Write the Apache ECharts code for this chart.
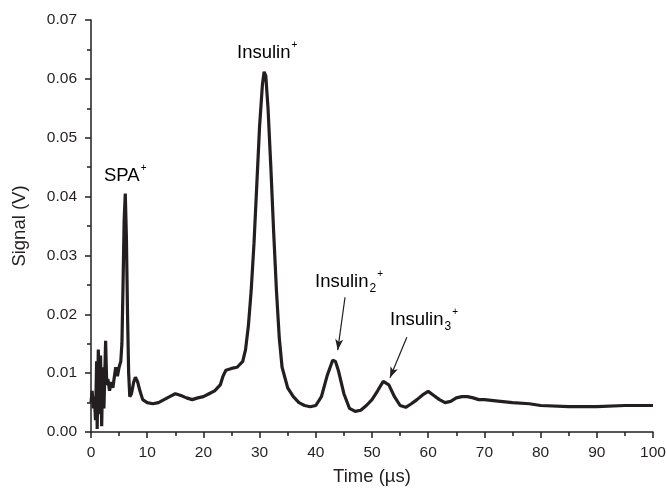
<!DOCTYPE html>
<html>
<head>
<meta charset="utf-8">
<script src="https://cdn.jsdelivr.net/npm/echarts@6/dist/echarts.min.js"></script>
<style>
  html, body { margin: 0; padding: 0; background: #fff; }
  #chart-wrapper { width: 667px; height: 488px; }
</style>
</head>
<body>
<div id="chart-wrapper"></div>
<script>
// time of flight (us) and signal (V)
const timeUs = [
  0, 0.2, 0.4, 0.6, 0.8, 1.0, 1.1, 1.3, 1.5, 1.7, 1.9, 2.1, 2.3, 2.6, 2.8, 3.0,
  3.3, 3.6, 3.9, 4.1, 4.4, 4.7, 5.0, 5.3, 5.5, 5.7, 5.9, 6.1, 6.3, 6.5, 6.7, 6.9,
  7.2, 7.6, 7.9, 8.3, 8.7, 9.2, 10, 11, 12, 13, 14, 15, 16, 17, 18, 19, 20, 21,
  22, 23, 23.5, 24, 25, 26, 27, 27.5, 28, 28.5, 29, 29.5, 30, 30.5, 30.8, 31.1,
  31.5, 32, 32.5, 33, 33.5, 34, 35, 36, 37, 38, 39, 40, 41, 42, 43, 43.5, 44, 45,
  46, 47, 48, 49, 50, 51, 52, 53, 54, 55, 56, 57, 58, 59, 60, 61, 62, 63, 64, 65,
  66, 67, 68, 69, 70, 72, 75, 78, 80, 85, 90, 95, 100
];
const signalV = [
  0.005, 0.007, 0.004, 0.006, 0.002, 0.012, 0.0005, 0.014, 0.003, 0.013, 0.001, 0.011, 0.004, 0.0155, 0.008, 0.009,
  0.007, 0.0085, 0.0075, 0.009, 0.011, 0.0095, 0.011, 0.012, 0.015, 0.025, 0.036, 0.0405, 0.033, 0.02, 0.01, 0.006,
  0.0065, 0.0085, 0.0093, 0.0085, 0.007, 0.0055, 0.005, 0.0048, 0.005, 0.0055, 0.006, 0.0065, 0.0062, 0.0058, 0.0055, 0.0058, 0.006, 0.0065,
  0.007, 0.008, 0.0095, 0.0105, 0.0108, 0.011, 0.012, 0.014, 0.018, 0.024, 0.032, 0.042, 0.052, 0.059, 0.0612, 0.0605,
  0.055, 0.045, 0.034, 0.024, 0.016, 0.011, 0.0075, 0.006, 0.005, 0.0045, 0.0043, 0.0045, 0.006, 0.0095, 0.0122, 0.012, 0.0105, 0.0065,
  0.004, 0.0035, 0.0037, 0.0045, 0.0055, 0.007, 0.0086, 0.008, 0.006, 0.0045, 0.0042, 0.0048, 0.0055, 0.0063, 0.0069, 0.0062, 0.0055, 0.005, 0.0052, 0.0058,
  0.006, 0.006, 0.0058, 0.0055, 0.0055, 0.0053, 0.005, 0.0048, 0.0045, 0.0043, 0.0043, 0.0045, 0.0045
];
// arrows for the dimer / trimer labels: [from, to] in data units
const arrowInsulin2 = [[45.2, 0.0229], [43.9, 0.0139]];
const arrowInsulin3 = [[56.2, 0.0161], [53.2, 0.0092]];

const ink = "#231f20";
const font = "Liberation Sans, Arial, sans-serif";

const chartDom = document.getElementById("chart-wrapper");
const chart = echarts.init(chartDom, null, { renderer: "canvas" });

const seriesData = timeUs.map((t, i) => [t, signalV[i]]);

const richLabel = {
  base: { fontSize: 18.5, lineHeight: 26, color: ink, fontFamily: font },
  sup: { fontSize: 10, lineHeight: 12, color: ink, fontFamily: font, verticalAlign: "top", padding: [0, 0, 0, 1] },
  sub: { fontSize: 12, lineHeight: 12, color: ink, fontFamily: font, verticalAlign: "bottom", padding: [0, 0, 0, 1] },
};

const tickStyle = { color: ink, width: 1.5 };

const option = {
  backgroundColor: "#fff",
  animation: false,
  grid: { left: 91, right: 14, top: 20, bottom: 56, outerBoundsMode: "none", containLabel: false },
  xAxis: {
    type: "value",
    min: 0,
    max: 100,
    interval: 10,
    name: "Time (\u00b5s)",
    nameLocation: "middle",
    nameGap: 35,
    nameTextStyle: { fontSize: 18.5, color: ink, fontFamily: font },
    axisLine: { lineStyle: tickStyle },
    axisTick: { show: true, inside: false, length: 6, lineStyle: tickStyle },
    minorTick: { show: true, splitNumber: 2, length: 4, lineStyle: tickStyle },
    axisLabel: { fontSize: 15.5, color: ink, fontFamily: font, margin: 13 },
    splitLine: { show: false },
  },
  yAxis: {
    type: "value",
    min: 0,
    max: 0.07,
    interval: 0.01,
    name: "Signal (V)",
    nameLocation: "middle",
    nameGap: 62,
    nameTextStyle: { fontSize: 18.5, color: ink, fontFamily: font },
    axisLine: { show: true, lineStyle: tickStyle },
    axisTick: { show: true, inside: false, length: 6, lineStyle: tickStyle },
    minorTick: { show: true, splitNumber: 2, length: 4, lineStyle: tickStyle },
    axisLabel: {
      fontSize: 15.5,
      color: ink,
      fontFamily: font,
      margin: 14,
      formatter: (v) => v.toFixed(2),
    },
    splitLine: { show: false },
  },
  series: [
    {
      type: "line",
      data: seriesData,
      showSymbol: false,
      smooth: false,
      lineStyle: { color: ink, width: 3.2 },
      markLine: {
        silent: true,
        symbol: ["none", "arrow"],
        symbolSize: [6, 11],
        label: { show: false },
        lineStyle: { color: ink, width: 1.2, type: "solid" },
        data: [
          [{ coord: arrowInsulin2[0] }, { coord: arrowInsulin2[1] }],
          [{ coord: arrowInsulin3[0] }, { coord: arrowInsulin3[1] }],
        ],
      },
    },
  ],
  graphic: [
    {
      type: "text",
      left: 104,
      top: 163,
      style: { text: "{base|SPA}{sup|+}", rich: richLabel },
    },
    {
      type: "text",
      left: 237,
      top: 40,
      style: { text: "{base|Insulin}{sup|+}", rich: richLabel },
    },
    {
      type: "text",
      left: 315,
      top: 269,
      style: { text: "{base|Insulin}{sub|2}{sup|+}", rich: richLabel },
    },
    {
      type: "text",
      left: 390,
      top: 307,
      style: { text: "{base|Insulin}{sub|3}{sup|+}", rich: richLabel },
    },
  ],
};

chart.setOption(option);
</script>
</body>
</html>
